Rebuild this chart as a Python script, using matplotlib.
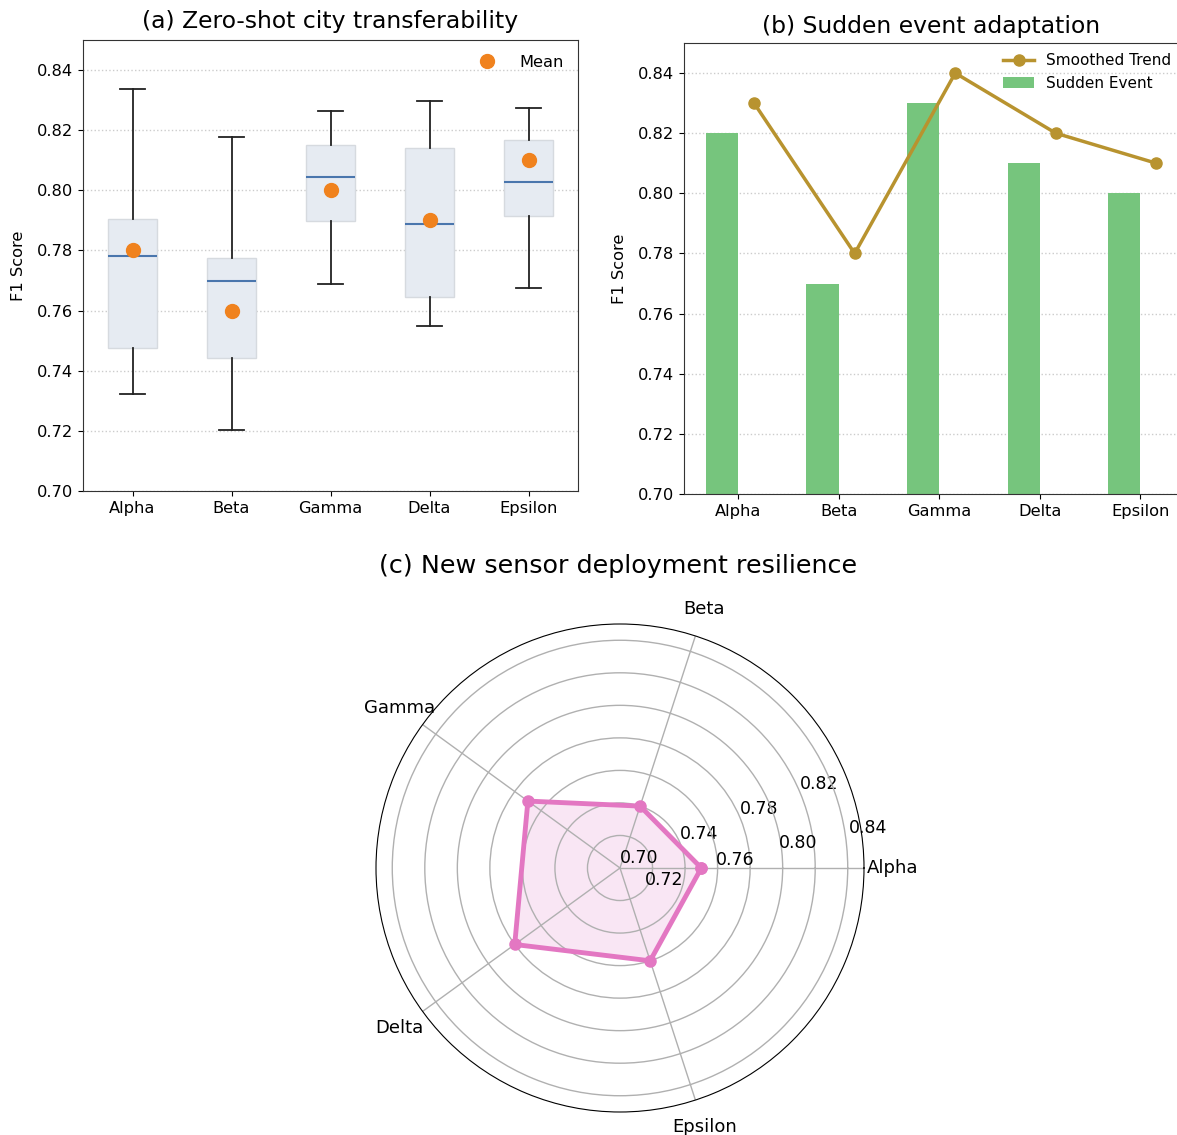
import matplotlib
matplotlib.use("Agg")
import matplotlib.pyplot as plt
import numpy as np

# categories shared by all three panels
cities = ["Alpha", "Beta", "Gamma", "Delta", "Epsilon"]

# (a) zero-shot transfer: box statistics
box_q1 = [0.7474, 0.7442, 0.7898, 0.7644, 0.7914]
box_med = [0.7781, 0.7698, 0.8044, 0.7888, 0.8027]
box_q3 = [0.7906, 0.7775, 0.8150, 0.8142, 0.8168]
box_lo = [0.7324, 0.7202, 0.7687, 0.7550, 0.7675]
box_hi = [0.8336, 0.8179, 0.8265, 0.8296, 0.8273]
box_mean = [0.78, 0.76, 0.80, 0.79, 0.81]

# (b) sudden event adaptation
event_f1 = [0.82, 0.77, 0.83, 0.81, 0.80]
trend_f1 = [0.83, 0.78, 0.84, 0.82, 0.81]

# (c) new sensor deployment
sensor_f1 = [0.75, 0.74, 0.77, 0.78, 0.76]
r_ticks = [0.70, 0.72, 0.74, 0.76, 0.78, 0.80, 0.82, 0.84]

W, H = 1177, 1135
fig = plt.figure(figsize=(W / 100, H / 100), dpi=100)
plt.rcParams['font.size'] = 11.7


def px_box(left, top, right, bottom):
    return [left / W, 1 - bottom / H, (right - left) / W, (bottom - top) / H]


def style_spines(ax):
    for s in ax.spines.values():
        s.set_color('#333333')


# ---------------- (a) boxplot ----------------
ax_a = fig.add_axes(px_box(83, 40, 578, 491))
stats = []
for i, name in enumerate(cities):
    stats.append(dict(label=name, q1=box_q1[i], med=box_med[i], q3=box_q3[i],
                      whislo=box_lo[i], whishi=box_hi[i], mean=box_mean[i], fliers=[]))
bp = ax_a.bxp(stats, positions=np.arange(1, 6), widths=0.5, patch_artist=True,
              showfliers=False, showmeans=False,
              boxprops=dict(facecolor='#e6ebf2', edgecolor='#d6dadf', linewidth=1),
              medianprops=dict(color='#4a76ad', linewidth=1.5),
              whiskerprops=dict(color='#222222', linewidth=1.3),
              capprops=dict(color='#222222', linewidth=1.3))
ax_a.plot(np.arange(1, 6), box_mean, 'o', color='#f0821e', markersize=10,
          linestyle='none', label='Mean', zorder=5)
ax_a.set_xlim(0.5, 5.5)
ax_a.set_ylim(0.70, 0.85)
ax_a.set_yticks(r_ticks)
ax_a.set_yticklabels([f"{t:.2f}" for t in r_ticks])
ax_a.set_ylabel("F1 Score", fontsize=11.7, labelpad=8)
ax_a.set_title("(a) Zero-shot city transferability", fontsize=16.9, pad=8.7)
ax_a.yaxis.grid(True, linestyle=':', color='#cccccc', linewidth=1)
ax_a.set_axisbelow(True)
ax_a.legend(loc='upper right', frameon=False, handletextpad=0.95)
style_spines(ax_a)

# ---------------- (b) bars + trend ----------------
ax_b = fig.add_axes(px_box(684, 43, 1179, 494))
x = np.arange(len(cities))
w = 0.32
ax_b.bar(x - w / 2, event_f1, width=w, color='#76c57d', label='Sudden Event')
ax_b.plot(x + w / 2, trend_f1, '-o', color='#b8932f', linewidth=2.5, markersize=8,
          label='Smoothed Trend')
ax_b.set_xticks(x)
ax_b.set_xticklabels(cities)
ax_b.set_xlim(-0.537, 4.385)
ax_b.set_ylim(0.70, 0.85)
ax_b.set_yticks(r_ticks)
ax_b.set_yticklabels([f"{t:.2f}" for t in r_ticks])
ax_b.set_ylabel("F1 Score", fontsize=11.7, labelpad=8)
ax_b.set_title("(b) Sudden event adaptation", fontsize=16.9, pad=7.5)
ax_b.yaxis.grid(True, linestyle=':', color='#cccccc', linewidth=1)
ax_b.set_axisbelow(True)
ax_b.legend(loc='upper right', frameon=False, fontsize=11, borderaxespad=0.1,
            bbox_to_anchor=(1.0, 0.995))
style_spines(ax_b)

# ---------------- (c) radar ----------------
ax_c = fig.add_axes(px_box(376, 624, 864, 1112), projection='polar')
angles = np.linspace(0, 2 * np.pi, len(cities), endpoint=False)
ang_closed = np.concatenate([angles, angles[:1]])
val_closed = np.concatenate([sensor_f1, sensor_f1[:1]])
ax_c.plot(ang_closed, val_closed, '-o', color='#e377c2', linewidth=3.5, markersize=8)
ax_c.fill(ang_closed, val_closed, color='#e377c2', alpha=0.18)
ax_c.set_xticks(angles)
ax_c.set_xticklabels(cities, fontsize=13)
ax_c.tick_params(axis='x', pad=10)
ax_c.set_ylim(0.70, 0.85)
ax_c.set_yticks(r_ticks)
ax_c.set_yticklabels([f"{t:.2f}" if t in (0.74, 0.78, 0.82) else "" for t in r_ticks],
                     fontsize=12.5)
ax_c.grid(color='#b0b0b0', linewidth=1)

# remaining radial labels sit off the default label ray
odd_labels = {0.70: (27.8, 0.7131), 0.72: (-15.0, 0.7284), 0.76: (3.9, 0.7709),
              0.80: (7.9, 0.8108), 0.84: (9.1, 0.8544)}
for val, (th, rr) in odd_labels.items():
    ax_c.text(np.deg2rad(th), rr, f"{val:.2f}", ha='center', va='center',
              fontsize=12.5, clip_on=False)

fig.text(618 / W, 1 - 566 / H, "(c) New sensor deployment resilience",
         ha='center', va='center', fontsize=18.3)

fig.savefig("out.png", dpi=100)
